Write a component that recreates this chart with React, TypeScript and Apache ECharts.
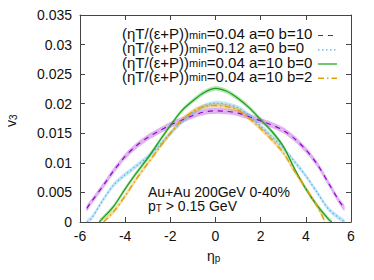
import React, { useEffect, useRef } from "react";
import * as echarts from "echarts";

const purpleEta = [-5.7, -5.5, -5, -4.5, -4, -3.5, -3, -2.5, -2, -1.5, -1, -0.5, 0, 0.5, 1, 1.5, 2, 2.5, 3, 3.5, 4, 4.5, 5, 5.5, 5.7];
const purpleV = [0.0023, 0.0034, 0.006, 0.0087, 0.0111, 0.0129, 0.0143, 0.0154, 0.0164, 0.0172, 0.018, 0.0186, 0.0188, 0.0187, 0.0184, 0.0178, 0.0171, 0.0164, 0.0155, 0.0141, 0.0122, 0.0098, 0.0066, 0.0034, 0.0024];

const cyanEta = [-5.7, -5.5, -5, -4.5, -4, -3.5, -3, -2.5, -2, -1.5, -1, -0.5, 0, 0.5, 1, 1.5, 2, 2.5, 3, 3.5, 4, 4.5, 5, 5.5, 5.72];
const cyanV = [0.0, 0.0006, 0.0036, 0.0063, 0.008, 0.0095, 0.011, 0.0129, 0.015, 0.0169, 0.0185, 0.0196, 0.0201, 0.0199, 0.0193, 0.018, 0.0162, 0.0144, 0.0125, 0.0102, 0.0078, 0.005, 0.0022, 0.0006, 0.0];

const greenEta = [-5.15, -5, -4.5, -4, -3.5, -3, -2.5, -2, -1.5, -1, -0.5, 0, 0.5, 1, 1.5, 2, 2.5, 3, 3.5, 4, 4.5, 5, 5.15];
const greenV = [0.0, 0.0006, 0.0027, 0.0056, 0.0083, 0.0108, 0.0136, 0.0163, 0.0188, 0.0205, 0.0219, 0.0226, 0.0221, 0.0209, 0.0193, 0.0173, 0.0153, 0.0128, 0.009, 0.0056, 0.0028, 0.0005, 0.0];

const orangeEta = [-4.95, -4.5, -4, -3.5, -3, -2.5, -2, -1.5, -1, -0.5, 0, 0.5, 1, 1.5, 2, 2.5, 3, 3.5, 4, 4.5, 4.85];
const orangeV = [0.0, 0.0018, 0.0044, 0.0073, 0.0099, 0.0125, 0.015, 0.0172, 0.0187, 0.0195, 0.0197, 0.0195, 0.0189, 0.0175, 0.0158, 0.0139, 0.0117, 0.0086, 0.0057, 0.0027, 0.0];

const bandHalf = [0.0005, 0.0004, 0.0004, 0.0004];

const legendLabels = ["=0.04 a=0 b=10", "=0.12 a=0 b=0", "=0.04 a=10 b=0", "=0.04 a=10 b=2"];
const seriesNames = ["a=0 b=10 (0.04)", "a=0 b=0 (0.12)", "a=10 b=0 (0.04)", "a=10 b=2 (0.04)"];

const FONT = "Liberation Sans";

export default function App() {
  const ref = useRef<HTMLDivElement>(null);
  useEffect(() => {
    if (!ref.current) return;
    const chart = echarts.init(ref.current, null, { renderer: "svg" });
    const sets = [
      { eta: purpleEta, v: purpleV, color: "#9400d3", band: "rgba(160,40,210,0.35)", dash: [5, 5] as any, width: 1.2 },
      { eta: cyanEta, v: cyanV, color: "#56b4e9", band: "rgba(86,180,233,0.35)", dash: [1.5, 2.5] as any, width: 1.2 },
      { eta: greenEta, v: greenV, color: "#1a9e1a", band: "rgba(40,180,40,0.35)", dash: "solid" as any, width: 1.2 },
      { eta: orangeEta, v: orangeV, color: "#e69f00", band: "rgba(230,159,0,0.35)", dash: [6, 3, 1.5, 3] as any, width: 1.4 },
    ];
    const bandSeries = sets.map((s, k) => ({
      type: "custom",
      clip: true,
      silent: true,
      z: 1,
      data: [[0, 0]],
      renderItem: (params: any, api: any) => {
        const up = s.eta.map((e, i) => api.coord([e, s.v[i] + bandHalf[k]]));
        const lo = s.eta.map((e, i) => api.coord([e, Math.max(0, s.v[i] - bandHalf[k])])).reverse();
        return {
          type: "polygon",
          shape: { points: up.concat(lo), smooth: 0.3 },
          style: { fill: s.band, stroke: "none" },
        };
      },
    }));
    const lineSeries = sets.map((s, k) => ({
      type: "line",
      name: seriesNames[k],
      data: s.eta.map((e, i) => [e, s.v[i]]),
      smooth: 0.3,
      symbol: "none",
      showSymbol: false,
      z: 3,
      lineStyle: { color: s.color, width: s.width, type: s.dash },
      itemStyle: { color: s.color },
    }));
    const axisLine = { show: true, onZero: false, lineStyle: { color: "#444", width: 1 } };
    const tick = { inside: true, length: 5, lineStyle: { color: "#444" } };
    const rowY = [33.5, 47.8, 62, 76.3];
    const legendGraphics: any[] = [];
    sets.forEach((s, k) => {
      legendGraphics.push({
        type: "text",
        x: 122,
        y: rowY[k],
        style: {
          text: `{a|(ηT/(ε+P))}{s|min}{a|${legendLabels[k]}}`,
          verticalAlign: "middle",
          rich: {
            a: { fontSize: 15, lineHeight: 13, fontFamily: FONT, fill: "#111" },
            s: { fontSize: 11, lineHeight: 6, verticalAlign: "bottom", fontFamily: FONT, fill: "#111" },
          },
        },
      });
      legendGraphics.push({
        type: "line",
        shape: { x1: 318, y1: rowY[k] + 2, x2: 337, y2: rowY[k] + 2 },
        style: {
          stroke: s.color,
          lineWidth: s.width,
          lineDash: s.dash === "solid" ? null : s.dash,
        },
      });
    });
    const subRich = {
      a: { fontSize: 14, lineHeight: 14, fontFamily: FONT, fill: "#111" },
      s: { fontSize: 10, lineHeight: 8, verticalAlign: "bottom", fontFamily: FONT, fill: "#111" },
    };
    chart.setOption({
      animation: false,
      textStyle: { fontFamily: FONT },
      grid: { left: 80, right: 23, top: 15, bottom: 58 },
      xAxis: [
        {
          type: "value", min: -6, max: 6, interval: 2, position: "bottom",
          axisLine, axisTick: tick,
          axisLabel: { color: "#111", fontSize: 14, margin: 7, fontFamily: FONT },
          splitLine: { show: false },
        },
        {
          type: "value", min: -6, max: 6, interval: 2, position: "top",
          axisLine, axisTick: tick,
          axisLabel: { show: false }, splitLine: { show: false },
        },
      ],
      yAxis: [
        {
          type: "value", min: 0, max: 0.035, interval: 0.005, position: "left",
          axisLine, axisTick: tick,
          axisLabel: {
            color: "#111", fontSize: 14, margin: 8, fontFamily: FONT,
            formatter: (v: number) => String(parseFloat(v.toFixed(3))),
          },
          splitLine: { show: false },
        },
        {
          type: "value", min: 0, max: 0.035, interval: 0.005, position: "right",
          axisLine, axisTick: tick,
          axisLabel: { show: false }, splitLine: { show: false },
        },
      ],
      graphic: [
        ...legendGraphics,
        {
          type: "text", x: 148, y: 191.5,
          style: { text: "Au+Au 200GeV 0-40%", font: `14px ${FONT}`, fill: "#111", verticalAlign: "middle" },
        },
        {
          type: "text", x: 148, y: 206,
          style: { text: "{a|p}{s|T}{a| > 0.15 GeV}", verticalAlign: "middle", rich: subRich },
        },
        {
          type: "text", x: 207, y: 256,
          style: { text: "{a|η}{s|p}", verticalAlign: "middle", rich: subRich },
        },
        {
          type: "text", x: 4, y: 127, rotation: Math.PI / 2,
          style: { text: "{a|v}{s|3}", rich: subRich },
        },
      ],
      series: [...bandSeries, ...lineSeries],
    } as any);
    return () => chart.dispose();
  }, []);
  return <div ref={ref} style={{ width: 374, height: 280, margin: -8 }} />;
}
